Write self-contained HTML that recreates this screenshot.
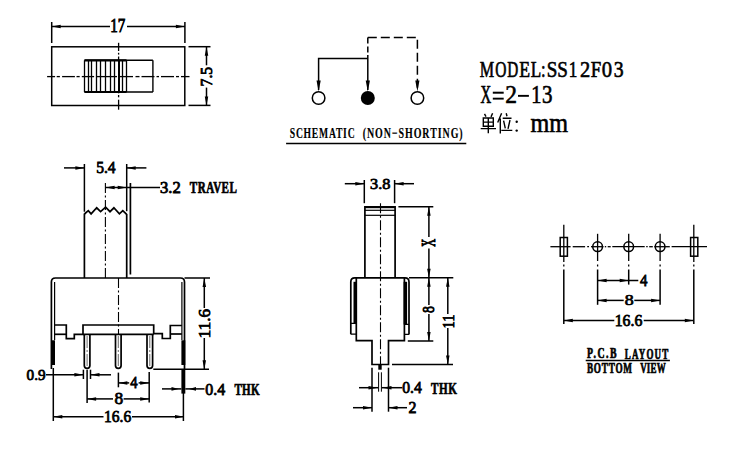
<!DOCTYPE html>
<html><head><meta charset="utf-8"><style>
html,body{margin:0;padding:0;background:#fff;width:750px;height:450px;overflow:hidden}
svg{display:block}
.tn{font-family:"Liberation Serif",serif;font-weight:normal;fill:#000;stroke:#000;stroke-width:0.8px;vector-effect:non-scaling-stroke}
.tl{font-family:"Liberation Serif",serif;font-weight:normal;fill:#000;stroke:#000;stroke-width:0.6px;vector-effect:non-scaling-stroke}
.tc{font-family:"Liberation Serif",serif;font-weight:bold;fill:#000;stroke:#000;stroke-width:0.6px;vector-effect:non-scaling-stroke}
.ts{font-family:"Liberation Serif",serif;font-weight:bold;fill:#000;stroke:#000;stroke-width:0.15px;vector-effect:non-scaling-stroke}
.tb{font-family:"Liberation Serif",serif;font-weight:bold;fill:#000}
.m{font-family:"Liberation Serif",serif;font-weight:normal;fill:#000}
</style></head><body>
<svg width="750" height="450" viewBox="0 0 750 450" stroke="#000" stroke-linecap="butt">
<rect x="51.7" y="46.8" width="133.10000000000002" height="58.7" stroke-width="1.5" fill="none"/>
<line x1="84.5" y1="60.3" x2="152.9" y2="60.3" stroke-width="1.5"/>
<line x1="84.5" y1="92" x2="152.9" y2="92" stroke-width="1.5"/>
<line x1="84.5" y1="60.3" x2="126.5" y2="60.3" stroke-width="2.2"/>
<line x1="84.5" y1="92" x2="126.5" y2="92" stroke-width="2.2"/>
<line x1="152.9" y1="60.3" x2="152.9" y2="92" stroke-width="1.4"/>
<line x1="84.5" y1="60.3" x2="84.5" y2="92" stroke-width="1.3"/>
<line x1="88.5" y1="60.3" x2="88.5" y2="92" stroke-width="1.3"/>
<line x1="91.5" y1="60.3" x2="91.5" y2="92" stroke-width="1.3"/>
<line x1="96.5" y1="60.3" x2="96.5" y2="92" stroke-width="1.3"/>
<line x1="100.5" y1="60.3" x2="100.5" y2="92" stroke-width="1.3"/>
<line x1="105.5" y1="60.3" x2="105.5" y2="92" stroke-width="1.3"/>
<line x1="110.5" y1="60.3" x2="110.5" y2="92" stroke-width="1.3"/>
<line x1="114.5" y1="60.3" x2="114.5" y2="92" stroke-width="1.3"/>
<line x1="122.5" y1="60.3" x2="122.5" y2="92" stroke-width="1.3"/>
<line x1="126.5" y1="60.3" x2="126.5" y2="92" stroke-width="1.3"/>
<line x1="119" y1="60.3" x2="119" y2="92" stroke-width="2.0"/>
<line x1="118.6" y1="42.8" x2="118.6" y2="51" stroke-width="1.3"/>
<line x1="118.6" y1="52.8" x2="118.6" y2="54.6" stroke-width="1.3"/>
<line x1="118.6" y1="56.5" x2="118.6" y2="60.3" stroke-width="1.3"/>
<line x1="118.6" y1="92" x2="118.6" y2="93.3" stroke-width="1.3"/>
<line x1="118.6" y1="95" x2="118.6" y2="97.3" stroke-width="1.3"/>
<line x1="118.6" y1="99.7" x2="118.6" y2="109.7" stroke-width="1.3"/>
<line x1="47.1" y1="76.6" x2="55.1" y2="76.6" stroke-width="1.3"/>
<line x1="56.7" y1="76.6" x2="59.9" y2="76.6" stroke-width="1.3"/>
<line x1="62.1" y1="76.6" x2="74.9" y2="76.6" stroke-width="1.3"/>
<line x1="76.5" y1="76.6" x2="79.7" y2="76.6" stroke-width="1.3"/>
<line x1="81.8" y1="76.6" x2="94.1" y2="76.6" stroke-width="1.3"/>
<line x1="96.2" y1="76.6" x2="117" y2="76.6" stroke-width="1.3"/>
<line x1="118.6" y1="76.6" x2="133" y2="76.6" stroke-width="1.3"/>
<line x1="135.5" y1="76.6" x2="139.5" y2="76.6" stroke-width="1.3"/>
<line x1="141.5" y1="76.6" x2="154.5" y2="76.6" stroke-width="1.3"/>
<line x1="156.5" y1="76.6" x2="159" y2="76.6" stroke-width="1.3"/>
<line x1="161" y1="76.6" x2="174" y2="76.6" stroke-width="1.3"/>
<line x1="176" y1="76.6" x2="179" y2="76.6" stroke-width="1.3"/>
<line x1="181" y1="76.6" x2="189.5" y2="76.6" stroke-width="1.3"/>
<line x1="51.7" y1="22" x2="51.7" y2="43" stroke-width="1.5"/>
<line x1="184.9" y1="22" x2="184.9" y2="43" stroke-width="1.5"/>
<line x1="51.7" y1="26.5" x2="110" y2="26.5" stroke-width="1.5"/>
<line x1="127" y1="26.5" x2="184.9" y2="26.5" stroke-width="1.5"/>
<polygon points="51.7,26.5 60.7,24.75 60.7,28.25" fill="#000" stroke="none"/>
<polygon points="184.9,26.5 175.9,24.75 175.9,28.25" fill="#000" stroke="none"/>
<line x1="188.5" y1="46.7" x2="210.5" y2="46.7" stroke-width="1.5"/>
<line x1="188.5" y1="105.4" x2="210.5" y2="105.4" stroke-width="1.5"/>
<line x1="206.5" y1="46.7" x2="206.5" y2="65.3" stroke-width="1.5"/>
<line x1="206.5" y1="87.6" x2="206.5" y2="105.4" stroke-width="1.5"/>
<polygon points="206.5,46.7 204.75,55.7 208.25,55.7" fill="#000" stroke="none"/>
<polygon points="206.5,105.4 204.75,96.4 208.25,96.4" fill="#000" stroke="none"/>
<path d="M318.6,90 V58.6 H367.8" stroke-width="1.5" fill="none"/>
<line x1="367.8" y1="55" x2="367.8" y2="90" stroke-width="1.5"/>
<line x1="367.8" y1="37.4" x2="367.8" y2="55" stroke-width="1.5" stroke-dasharray="6 3"/>
<path d="M367.8,37.4 H417.4 V90" stroke-width="1.5" fill="none" stroke-dasharray="9 4"/>
<polygon points="318.6,91.5 316.5,80.5 320.70000000000005,80.5" fill="#000" stroke="none"/>
<polygon points="367.8,91.5 365.7,80.5 369.90000000000003,80.5" fill="#000" stroke="none"/>
<polygon points="417.4,91.5 415.29999999999995,80.5 419.5,80.5" fill="#000" stroke="none"/>
<circle cx="318.6" cy="98" r="6.3" fill="#fff" stroke-width="1.5"/>
<circle cx="367.8" cy="98" r="7" fill="#000" stroke="none"/>
<circle cx="417.4" cy="98" r="6.3" fill="#fff" stroke-width="1.5"/>
<line x1="286.1" y1="143.5" x2="466.3" y2="143.5" stroke-width="1.6"/>
<rect x="492.8" y="91.7" width="10.899999999999977" height="2.0" stroke="none" fill="#000"/>
<rect x="492.8" y="97.7" width="10.899999999999977" height="1.8999999999999915" stroke="none" fill="#000"/>
<rect x="518" y="94.9" width="10.899999999999977" height="1.8999999999999915" stroke="none" fill="#000"/>
<path d="M484.5,113.8 L486,116.6 M492.6,113.3 L491,116.9" stroke-width="1.4" fill="none"/>
<path d="M483.3,118 H493.3 V126.3 H483.3 Z M483.3,122.1 H493.3 M488.3,118 V133.3 M480.7,128.6 H496" stroke-width="1.4" fill="none"/>
<path d="M501.6,113.3 L497.7,122.6 M500.3,118.6 V133.4" stroke-width="1.4" fill="none"/>
<path d="M506.2,113.3 L507,116.3 M502.7,118.3 H511.5 M503.6,120.6 L505.3,128.4 M510,120 L508,128.8 M501.3,130.4 H512.3" stroke-width="1.4" fill="none"/>
<circle cx="516.7" cy="121.7" r="1.2" fill="#000" stroke="none"/><circle cx="516.7" cy="130.6" r="1.2" fill="#000" stroke="none"/>
<line x1="84.4" y1="164" x2="84.4" y2="211.7" stroke-width="1.5"/>
<line x1="126.7" y1="164" x2="126.7" y2="211.2" stroke-width="1.5"/>
<path d="M84.4,214 L88.3,210.6 L91.1,213.9 L96.7,207.8 L100.6,211.7 L105.6,207.2 L110,211.7 L113.9,207.8 L119.4,213.9 L122.8,210.6 L126.7,214.4" stroke-width="1.7" fill="none"/>
<line x1="84.4" y1="213.5" x2="84.4" y2="278" stroke-width="1.7"/>
<line x1="126.7" y1="214" x2="126.7" y2="278" stroke-width="1.7"/>
<line x1="130.4" y1="183" x2="130.4" y2="274.5" stroke-width="1.7"/>
<line x1="105.4" y1="183" x2="105.4" y2="278" stroke-width="1.1" stroke-dasharray="10 2.5 2 2.5"/>
<line x1="64" y1="167.9" x2="84.4" y2="167.9" stroke-width="1.5"/>
<polygon points="84.4,167.9 75.4,166.15 75.4,169.65" fill="#000" stroke="none"/>
<line x1="126.7" y1="167.9" x2="146.4" y2="167.9" stroke-width="1.5"/>
<polygon points="126.7,167.9 135.7,166.15 135.7,169.65" fill="#000" stroke="none"/>
<line x1="105.4" y1="187.4" x2="160" y2="187.4" stroke-width="1.5"/>
<polygon points="105.6,187.4 114.6,185.65 114.6,189.15" fill="#000" stroke="none"/>
<polygon points="126.7,187.4 117.7,185.65 117.7,189.15" fill="#000" stroke="none"/>
<path d="M51.4,369 V282 Q51.4,278 55.4,278 H180.5 Q184.5,278 184.5,282 V369" stroke-width="1.7" fill="none"/>
<line x1="184.5" y1="278" x2="210" y2="278" stroke-width="1.5"/>
<line x1="54.6" y1="282" x2="54.6" y2="340" stroke-width="1.2"/>
<line x1="181.9" y1="282" x2="181.9" y2="340" stroke-width="1.2"/>
<rect x="51" y="340.3" width="4" height="24.69999999999999" stroke="none" fill="#000"/>
<rect x="181.4" y="340.3" width="3.9000000000000057" height="24.69999999999999" stroke="none" fill="#000"/>
<rect x="181.4" y="369" width="3.9000000000000057" height="24.600000000000023" stroke="none" fill="#000"/>
<path d="M54.6,325 H66.3 V338.7 H74.3 V334.3 H83 V325 H153.7 V333.7 H162.3 V338.5 H170.3 V325.5 H181.9" stroke-width="1.7" fill="none"/>
<line x1="54.6" y1="334.3" x2="66.3" y2="334.3" stroke-width="1.7"/>
<line x1="83" y1="334.3" x2="153.7" y2="334.3" stroke-width="1.7"/>
<line x1="170.3" y1="334" x2="181.9" y2="334" stroke-width="1.7"/>
<line x1="118.5" y1="278" x2="118.5" y2="334" stroke-width="1.1" stroke-dasharray="10 2.5 2 2.5"/>
<path d="M84.3,334.3 V365.6 A2.8,2.8 0 0 0 89.89999999999999,365.6 V334.3" stroke-width="1.7" fill="none"/>
<line x1="87.1" y1="336" x2="87.1" y2="366" stroke="#444" stroke-width="0.8" stroke-dasharray="12 2 2 2"/>
<path d="M115.5,334.3 V365.6 A2.8,2.8 0 0 0 121.1,365.6 V334.3" stroke-width="1.7" fill="none"/>
<line x1="118.3" y1="336" x2="118.3" y2="366" stroke="#444" stroke-width="0.8" stroke-dasharray="12 2 2 2"/>
<path d="M147.0,334.3 V365.6 A2.8,2.8 0 0 0 152.60000000000002,365.6 V334.3" stroke-width="1.7" fill="none"/>
<line x1="149.8" y1="336" x2="149.8" y2="366" stroke="#444" stroke-width="0.8" stroke-dasharray="12 2 2 2"/>
<line x1="153.3" y1="369.3" x2="209" y2="369.3" stroke-width="1.5"/>
<line x1="204.3" y1="278" x2="204.3" y2="308" stroke-width="1.5"/>
<line x1="204.3" y1="338" x2="204.3" y2="369.3" stroke-width="1.5"/>
<polygon points="204.3,278 202.55,287 206.05,287" fill="#000" stroke="none"/>
<polygon points="204.3,369.3 202.55,360.3 206.05,360.3" fill="#000" stroke="none"/>
<line x1="53.3" y1="368" x2="53.3" y2="421" stroke-width="1.5"/>
<line x1="183.4" y1="393" x2="183.4" y2="421" stroke-width="1.5"/>
<line x1="83.4" y1="369.7" x2="83.4" y2="379" stroke-width="1.5"/>
<line x1="90.5" y1="369.7" x2="90.5" y2="379" stroke-width="1.5"/>
<line x1="87.1" y1="369.7" x2="87.1" y2="403" stroke-width="1.5"/>
<line x1="46" y1="374.8" x2="83.4" y2="374.8" stroke-width="1.5"/>
<polygon points="83.4,374.8 74.4,373.05 74.4,376.55" fill="#000" stroke="none"/>
<line x1="90.5" y1="374.8" x2="111" y2="374.8" stroke-width="1.5"/>
<polygon points="90.5,374.8 99.5,373.05 99.5,376.55" fill="#000" stroke="none"/>
<line x1="118.4" y1="372.6" x2="118.4" y2="387.3" stroke-width="1.5"/>
<line x1="149.2" y1="372" x2="149.2" y2="402.5" stroke-width="1.5"/>
<line x1="118.4" y1="382.9" x2="129.2" y2="382.9" stroke-width="1.5"/>
<polygon points="118.4,382.9 127.4,381.15 127.4,384.65" fill="#000" stroke="none"/>
<line x1="138.6" y1="382.9" x2="149.2" y2="382.9" stroke-width="1.5"/>
<polygon points="149.2,382.9 140.2,381.15 140.2,384.65" fill="#000" stroke="none"/>
<line x1="87.1" y1="398.9" x2="113" y2="398.9" stroke-width="1.5"/>
<line x1="123.6" y1="398.9" x2="149.2" y2="398.9" stroke-width="1.5"/>
<polygon points="87.1,398.9 96.1,397.15 96.1,400.65" fill="#000" stroke="none"/>
<polygon points="149.2,398.9 140.2,397.15 140.2,400.65" fill="#000" stroke="none"/>
<line x1="53.3" y1="416.7" x2="103.5" y2="416.7" stroke-width="1.5"/>
<line x1="132" y1="416.7" x2="184" y2="416.7" stroke-width="1.5"/>
<polygon points="53.3,416.7 62.3,414.95 62.3,418.45" fill="#000" stroke="none"/>
<polygon points="184,416.7 175,414.95 175,418.45" fill="#000" stroke="none"/>
<line x1="162" y1="388.9" x2="181.4" y2="388.9" stroke-width="1.5"/>
<polygon points="178.5,388.9 171.5,387.0 171.5,390.79999999999995" fill="#000" stroke="none"/>
<line x1="185.3" y1="388.9" x2="204.5" y2="388.9" stroke-width="1.5"/>
<polygon points="189,388.9 196,387.0 196,390.79999999999995" fill="#000" stroke="none"/>
<line x1="364.3" y1="180" x2="364.3" y2="203.2" stroke-width="1.5"/>
<line x1="394.6" y1="180" x2="394.6" y2="203.2" stroke-width="1.5"/>
<line x1="344.8" y1="183.7" x2="364.3" y2="183.7" stroke-width="1.5"/>
<polygon points="364.3,183.7 355.3,181.95 355.3,185.45" fill="#000" stroke="none"/>
<line x1="394.6" y1="183.7" x2="414" y2="183.7" stroke-width="1.5"/>
<polygon points="394.6,183.7 403.6,181.95 403.6,185.45" fill="#000" stroke="none"/>
<path d="M364.9,278 V206.8 H395.1 V278" stroke-width="1.7" fill="none"/>
<line x1="364.9" y1="207.2" x2="395.1" y2="207.2" stroke-width="2.0"/>
<line x1="364.9" y1="210.3" x2="395.1" y2="210.3" stroke-width="1.2"/>
<line x1="364.9" y1="215.3" x2="395.1" y2="215.3" stroke-width="1.2"/>
<line x1="380.5" y1="203.2" x2="380.5" y2="364" stroke-width="1.1" stroke-dasharray="10 2.5 2 2.5"/>
<line x1="398.4" y1="206.7" x2="433.3" y2="206.7" stroke-width="1.5"/>
<line x1="428.9" y1="206.7" x2="428.9" y2="237" stroke-width="1.5"/>
<line x1="428.9" y1="248.5" x2="428.9" y2="277.8" stroke-width="1.5"/>
<polygon points="428.9,206.7 427.15,215.7 430.65,215.7" fill="#000" stroke="none"/>
<polygon points="428.9,277.8 427.15,268.8 430.65,268.8" fill="#000" stroke="none"/>
<line x1="409" y1="277.8" x2="453.3" y2="277.8" stroke-width="1.5"/>
<path d="M350.8,334.2 V282 Q350.8,277.9 354.8,277.9 H405 Q409,277.9 409,282 V334.4" stroke-width="1.7" fill="none"/>
<path d="M356.3,278 V340.6 H372 V364.5 H388.5 V340.6 H404.4 V278" stroke-width="1.7" fill="none"/>
<rect x="353.5" y="281.8" width="3.5" height="41.69999999999999" stroke="none" fill="#000"/>
<rect x="403.6" y="281.8" width="3.5" height="42.69999999999999" stroke="none" fill="#000"/>
<path d="M350.8,323.3 H356.3 M350.8,334.2 H356.3" stroke-width="1.2" fill="none"/>
<path d="M404.4,324.4 H409 M404.4,334.4 H409" stroke-width="1.2" fill="none"/>
<rect x="378.3" y="365" width="3.3999999999999773" height="4.699999999999989" stroke="none" fill="#000"/>
<line x1="378.6" y1="372.3" x2="378.6" y2="391.7" stroke-width="1.0"/>
<line x1="381.4" y1="372.3" x2="381.4" y2="391.7" stroke-width="1.0"/>
<line x1="372" y1="367.7" x2="372" y2="411.7" stroke-width="1.5"/>
<line x1="388.5" y1="367.7" x2="388.5" y2="411.7" stroke-width="1.5"/>
<line x1="407.8" y1="341" x2="433.3" y2="341" stroke-width="1.5"/>
<line x1="428.9" y1="277.8" x2="428.9" y2="305" stroke-width="1.5"/>
<line x1="428.9" y1="314" x2="428.9" y2="341" stroke-width="1.5"/>
<polygon points="428.9,277.8 427.15,286.8 430.65,286.8" fill="#000" stroke="none"/>
<polygon points="428.9,341 427.15,332 430.65,332" fill="#000" stroke="none"/>
<line x1="392" y1="364.5" x2="453" y2="364.5" stroke-width="1.5"/>
<line x1="447.8" y1="277.8" x2="447.8" y2="314" stroke-width="1.5"/>
<line x1="447.8" y1="328" x2="447.8" y2="364.4" stroke-width="1.5"/>
<polygon points="447.8,277.8 446.05,286.8 449.55,286.8" fill="#000" stroke="none"/>
<polygon points="447.8,364.4 446.05,355.4 449.55,355.4" fill="#000" stroke="none"/>
<line x1="359" y1="387.7" x2="378.3" y2="387.7" stroke-width="1.5"/>
<polygon points="377.5,387.7 368.5,385.95 368.5,389.45" fill="#000" stroke="none"/>
<line x1="381.7" y1="387.7" x2="402.3" y2="387.7" stroke-width="1.5"/>
<polygon points="382.5,387.7 391.5,385.95 391.5,389.45" fill="#000" stroke="none"/>
<line x1="353" y1="407.7" x2="372" y2="407.7" stroke-width="1.5"/>
<polygon points="372,407.7 363,405.95 363,409.45" fill="#000" stroke="none"/>
<line x1="388.5" y1="407.7" x2="407" y2="407.7" stroke-width="1.5"/>
<polygon points="388.5,407.7 397.5,405.95 397.5,409.45" fill="#000" stroke="none"/>
<line x1="550.4" y1="246.7" x2="570.6" y2="246.7" stroke-width="1.3"/>
<line x1="572.7" y1="246.7" x2="585.1" y2="246.7" stroke-width="1.3"/>
<line x1="587.2" y1="246.7" x2="589" y2="246.7" stroke-width="1.3"/>
<line x1="591" y1="246.7" x2="603.5" y2="246.7" stroke-width="1.3"/>
<line x1="604.8" y1="246.7" x2="606.2" y2="246.7" stroke-width="1.3"/>
<line x1="607.7" y1="246.7" x2="610.7" y2="246.7" stroke-width="1.3"/>
<line x1="612.3" y1="246.7" x2="644.7" y2="246.7" stroke-width="1.3"/>
<line x1="646.2" y1="246.7" x2="647.7" y2="246.7" stroke-width="1.3"/>
<line x1="649.2" y1="246.7" x2="652.8" y2="246.7" stroke-width="1.3"/>
<line x1="654.3" y1="246.7" x2="669.8" y2="246.7" stroke-width="1.3"/>
<line x1="671.6" y1="246.7" x2="707" y2="246.7" stroke-width="1.3"/>
<line x1="563.8" y1="224.8" x2="563.8" y2="262" stroke-width="1.3"/>
<line x1="563.8" y1="264.5" x2="563.8" y2="266.5" stroke-width="1.3"/>
<line x1="563.8" y1="269.5" x2="563.8" y2="324" stroke-width="1.5"/>
<line x1="693.8" y1="224.8" x2="693.8" y2="262" stroke-width="1.3"/>
<line x1="693.8" y1="264.5" x2="693.8" y2="266.5" stroke-width="1.3"/>
<line x1="693.8" y1="269.5" x2="693.8" y2="324" stroke-width="1.5"/>
<rect x="560.2" y="237.5" width="7.199999999999932" height="18.69999999999999" stroke-width="1.5" fill="none"/>
<rect x="690.6" y="237.5" width="7.199999999999932" height="18.69999999999999" stroke-width="1.5" fill="none"/>
<line x1="597.6" y1="233.8" x2="597.6" y2="261" stroke-width="1.3"/>
<line x1="597.6" y1="264.5" x2="597.6" y2="266.5" stroke-width="1.3"/>
<line x1="597.6" y1="269.5" x2="597.6" y2="304.8" stroke-width="1.5"/>
<circle cx="597.6" cy="246.7" r="4.85" fill="none" stroke-width="1.5"/>
<line x1="628.7" y1="233.8" x2="628.7" y2="261" stroke-width="1.3"/>
<line x1="628.7" y1="264.5" x2="628.7" y2="266.5" stroke-width="1.3"/>
<line x1="628.7" y1="269.5" x2="628.7" y2="284.6" stroke-width="1.5"/>
<circle cx="628.7" cy="246.7" r="4.85" fill="none" stroke-width="1.5"/>
<line x1="660.1" y1="233.8" x2="660.1" y2="261" stroke-width="1.3"/>
<line x1="660.1" y1="264.5" x2="660.1" y2="266.5" stroke-width="1.3"/>
<line x1="660.1" y1="269.5" x2="660.1" y2="304.8" stroke-width="1.5"/>
<circle cx="660.1" cy="246.7" r="4.85" fill="none" stroke-width="1.5"/>
<line x1="597.6" y1="280.4" x2="638.3" y2="280.4" stroke-width="1.5"/>
<polygon points="597.6,280.4 606.6,278.65 606.6,282.15" fill="#000" stroke="none"/>
<polygon points="628.7,280.4 619.7,278.65 619.7,282.15" fill="#000" stroke="none"/>
<line x1="597.6" y1="300.4" x2="623.7" y2="300.4" stroke-width="1.5"/>
<line x1="634.3" y1="300.4" x2="660.1" y2="300.4" stroke-width="1.5"/>
<polygon points="597.6,300.4 606.6,298.65 606.6,302.15" fill="#000" stroke="none"/>
<polygon points="660.1,300.4 651.1,298.65 651.1,302.15" fill="#000" stroke="none"/>
<line x1="563.8" y1="320.4" x2="614.3" y2="320.4" stroke-width="1.5"/>
<line x1="643.7" y1="320.4" x2="693.8" y2="320.4" stroke-width="1.5"/>
<polygon points="563.8,320.4 572.8,318.65 572.8,322.15" fill="#000" stroke="none"/>
<polygon points="693.8,320.4 684.8,318.65 684.8,322.15" fill="#000" stroke="none"/>
<line x1="585.7" y1="360.6" x2="669.9" y2="360.6" stroke-width="1.5"/>
<text class="tn" transform="matrix(0.75000,0.00000,0.00000,0.90840,110.250,32.400)" x="0" y="0" font-size="20">17</text>
<text class="tn" transform="matrix(0.00000,-0.78603,0.84328,0.00000,212.147,86.422)" x="0" y="0" font-size="20">7.5</text>
<text class="ts" transform="matrix(0.48239,0.00000,0.00000,0.75373,289.769,138.349)" x="0" y="0" font-size="20" letter-spacing="1.581">SCHEMATIC</text>
<text class="ts" transform="matrix(0.49746,0.00000,0.00000,0.75373,362.652,138.349)" x="0" y="0" font-size="20" letter-spacing="1.916">(NON−SHORTING)</text>
<text class="tl" transform="matrix(1.20724,0.00000,0.00000,1.31915,530.517,132.400)" x="0" y="0" font-size="20">mm</text>
<text class="tn" transform="matrix(0.77872,0.00000,0.00000,0.85075,96.166,173.345)" x="0" y="0" font-size="20">5.4</text>
<text class="tn" transform="matrix(0.82969,0.00000,0.00000,0.78519,159.970,192.964)" x="0" y="0" font-size="20">3.2</text>
<text class="tc" transform="matrix(0.55481,0.00000,0.00000,0.79259,189.834,193.062)" x="0" y="0" font-size="20" letter-spacing="0.806">TRAVEL</text>
<text class="tn" transform="matrix(0.00000,-0.85266,0.82963,0.00000,209.851,338.135)" x="0" y="0" font-size="20">11.6</text>
<text class="tn" transform="matrix(0.76068,0.00000,0.00000,0.73529,26.591,379.979)" x="0" y="0" font-size="20">0.9</text>
<text class="tn" transform="matrix(0.73118,0.00000,0.00000,0.83077,130.308,388.483)" x="0" y="0" font-size="20">4</text>
<text class="tn" transform="matrix(0.86905,0.00000,0.00000,0.82222,114.605,404.436)" x="0" y="0" font-size="20">8</text>
<text class="tn" transform="matrix(0.77607,0.00000,0.00000,0.81481,104.003,422.356)" x="0" y="0" font-size="20">16.6</text>
<text class="tn" transform="matrix(0.79498,0.00000,0.00000,0.80147,205.364,394.960)" x="0" y="0" font-size="20">0.4</text>
<text class="tc" transform="matrix(0.55206,0.00000,0.00000,0.86260,234.434,395.300)" x="0" y="0" font-size="20" letter-spacing="0.461">THK</text>
<text class="tn" transform="matrix(0.81466,0.00000,0.00000,0.76471,369.985,189.471)" x="0" y="0" font-size="20">3.8</text>
<text class="tn" transform="matrix(0.00000,-0.54015,0.89231,0.00000,434.700,246.716)" x="0" y="0" font-size="20">X</text>
<text class="tn" transform="matrix(0.00000,-0.69048,0.80741,0.00000,434.139,312.952)" x="0" y="0" font-size="20">8</text>
<text class="tn" transform="matrix(0.00000,-0.71605,0.85496,0.00000,454.100,328.489)" x="0" y="0" font-size="20">11</text>
<text class="tn" transform="matrix(0.78243,0.00000,0.00000,0.83824,402.274,393.249)" x="0" y="0" font-size="20">0.4</text>
<text class="tc" transform="matrix(0.55695,0.00000,0.00000,0.87023,431.033,393.500)" x="0" y="0" font-size="20" letter-spacing="1.072">THK</text>
<text class="tn" transform="matrix(0.80000,0.00000,0.00000,0.82576,408.480,413.100)" x="0" y="0" font-size="20">2</text>
<text class="tn" transform="matrix(0.74194,0.00000,0.00000,0.81538,640.103,286.382)" x="0" y="0" font-size="20">4</text>
<text class="tn" transform="matrix(0.89286,0.00000,0.00000,0.77778,624.686,305.444)" x="0" y="0" font-size="20">8</text>
<text class="tn" transform="matrix(0.79141,0.00000,0.00000,0.78519,614.675,326.064)" x="0" y="0" font-size="20">16.6</text>
<text class="tc" transform="matrix(0.49067,0.00000,0.00000,0.68148,586.953,358.496)" x="0" y="0" font-size="20" letter-spacing="3.002">P.C.B</text>
<text class="tc" transform="matrix(0.44896,0.00000,0.00000,0.70149,624.865,358.760)" x="0" y="0" font-size="20" letter-spacing="2.536">LAYOUT</text>
<text class="tc" transform="matrix(0.45908,0.00000,0.00000,0.74046,586.962,373.100)" x="0" y="0" font-size="20" letter-spacing="1.714">BOTTOM</text>
<text class="tc" transform="matrix(0.44881,0.00000,0.00000,0.72388,640.210,372.883)" x="0" y="0" font-size="20" letter-spacing="0.350">VIEW</text>
<text class="tl" transform="matrix(0.80723,0.00000,0.00000,1.20149,479.816,76.560)" x="0" y="0" font-size="20">M</text>
<text class="tl" transform="matrix(0.77344,0.00000,0.00000,1.20149,495.181,76.560)" x="0" y="0" font-size="20">O</text>
<text class="tl" transform="matrix(0.76154,0.00000,0.00000,1.20149,507.343,76.560)" x="0" y="0" font-size="20">D</text>
<text class="tl" transform="matrix(0.88679,0.00000,0.00000,1.20149,519.268,76.560)" x="0" y="0" font-size="20">E</text>
<text class="tl" transform="matrix(0.85577,0.00000,0.00000,1.20149,530.787,76.560)" x="0" y="0" font-size="20">L</text>
<text class="tl" transform="matrix(0.82609,0.00000,0.00000,1.20149,540.978,76.560)" x="0" y="0" font-size="20">:</text>
<text class="tl" transform="matrix(0.95349,0.00000,0.00000,1.20149,546.760,76.560)" x="0" y="0" font-size="20">S</text>
<text class="tl" transform="matrix(0.95349,0.00000,0.00000,1.20149,557.160,76.560)" x="0" y="0" font-size="20">S</text>
<text class="tl" transform="matrix(0.85714,0.00000,0.00000,1.20149,568.857,76.560)" x="0" y="0" font-size="20">1</text>
<text class="tl" transform="matrix(1.02500,0.00000,0.00000,1.20149,579.877,76.560)" x="0" y="0" font-size="20">2</text>
<text class="tl" transform="matrix(0.93878,0.00000,0.00000,1.20149,590.637,76.560)" x="0" y="0" font-size="20">F</text>
<text class="tl" transform="matrix(1.03571,0.00000,0.00000,1.20149,601.871,76.560)" x="0" y="0" font-size="20">0</text>
<text class="tl" transform="matrix(0.98780,0.00000,0.00000,1.20149,613.712,76.560)" x="0" y="0" font-size="20">3</text>
<text class="tl" transform="matrix(0.73723,0.00000,0.00000,1.25385,480.605,102.900)" x="0" y="0" font-size="20">X</text>
<text class="tl" transform="matrix(1.17500,0.00000,0.00000,1.25385,505.243,102.900)" x="0" y="0" font-size="20">2</text>
<text class="tl" transform="matrix(1.01429,0.00000,0.00000,1.25385,531.374,102.900)" x="0" y="0" font-size="20">1</text>
<text class="tl" transform="matrix(1.04878,0.00000,0.00000,1.25385,541.951,102.900)" x="0" y="0" font-size="20">3</text>
</svg>
</body></html>
